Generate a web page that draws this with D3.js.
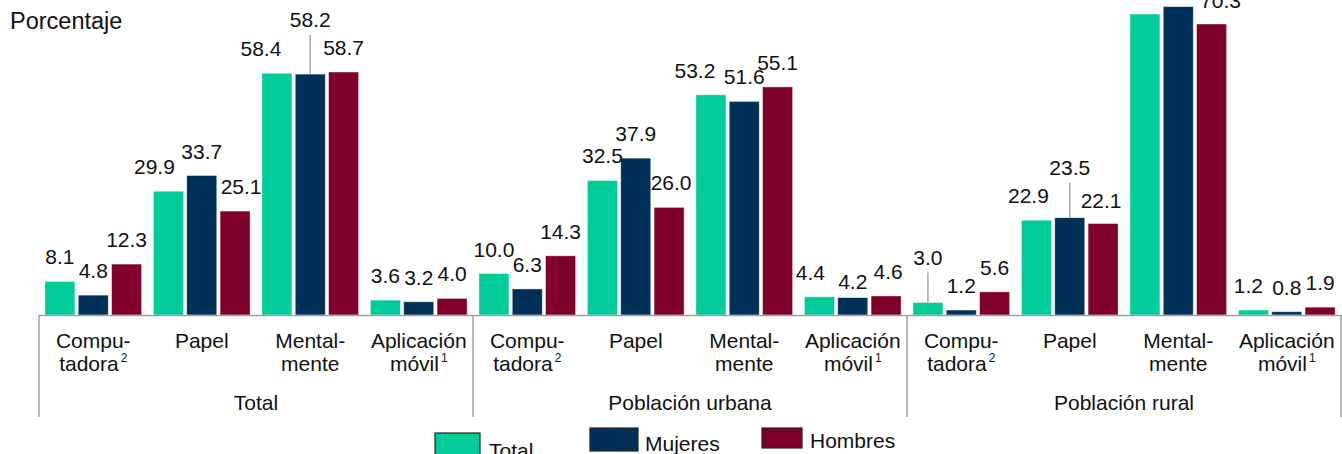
<!DOCTYPE html>
<html>
<head>
<meta charset="utf-8">
<script src="https://cdn.jsdelivr.net/npm/d3@7"></script>
<style>
  body { margin: 0; background: #fff; }
  svg { display: block; font-family: "Liberation Sans", Arial, sans-serif; }
</style>
</head>
<body>
<div id="chart"></div>
<script>
// Datos
var groups = ["Total", "Población urbana", "Población rural"];
var categories = ["Computadora", "Papel", "Mentalmente", "Aplicación móvil"];
var categoryLines = [["Compu-", "tadora"], ["Papel"], ["Mental-", "mente"], ["Aplicación", "móvil"]];
var categorySup = ["2", "", "", "1"];
var series = ["Total", "Mujeres", "Hombres"];
var colors = ["#00cc99", "#003057", "#80002c"];

// un valor por grupo x categoría (4 categorías por grupo)
var valuesTotal   = [8.1, 29.9, 58.4, 3.6, 10.0, 32.5, 53.2, 4.4, 3.0, 22.9, 72.7, 1.2];
var valuesMujeres = [4.8, 33.7, 58.2, 3.2, 6.3, 37.9, 51.6, 4.2, 1.2, 23.5, 74.5, 0.8];
var valuesHombres = [12.3, 25.1, 58.7, 4.0, 14.3, 26.0, 55.1, 4.6, 5.6, 22.1, 70.3, 1.9];

var allValues = [valuesTotal, valuesMujeres, valuesHombres];

// ajustes de etiquetas (índice "columna-serie"): dx, distancia arriba, línea guía
var labelAdjust = {
  "1-0": {dx: -14}, "1-2": {dx: 6}, "2-0": {dx: -16},
  "2-1": {up: 47, leader: true},
  "6-0": {dx: -16}, "5-2": {dx: 2},
  "7-0": {dx: -9}, "7-1": {up: 9}, "7-2": {dx: 2},
  "8-0": {up: 38, leader: true},
  "9-0": {dx: -8}, "9-1": {up: 43, leader: true}, "9-2": {dx: -2, up: 16},
  "10-2": {dx: 9, up: 16}, "11-0": {dx: -5}
};

var width = 1342, height = 454;
var left = 39, right = 1341, base = 315;
var fs = "21px";

var svg = d3.select("#chart").append("svg")
  .attr("width", width)
  .attr("height", height);

var columns = d3.range(groups.length * categories.length);

var x = d3.scaleBand()
  .domain(columns)
  .range([left, right])
  .paddingInner(0.109)
  .paddingOuter(0.0545);

var xs = d3.scaleBand()
  .domain(d3.range(series.length))
  .range([0, x.bandwidth()])
  .paddingInner(0.1);

var y = d3.scaleLinear()
  .domain([0, 76.1])
  .range([base, 0]);

// barras
var barData = [];
columns.forEach(function(c) {
  series.forEach(function(s, i) {
    barData.push({col: c, s: i, value: allValues[i][c]});
  });
});

svg.selectAll(".bar")
  .data(barData)
  .enter().append("rect")
  .attr("class", "bar")
  .attr("x", function(d) { return x(d.col) + xs(d.s); })
  .attr("y", function(d) { return y(d.value); })
  .attr("width", xs.bandwidth())
  .attr("height", function(d) { return base - y(d.value); })
  .attr("fill", function(d) { return colors[d.s]; })
  .attr("stroke", "#ffffff")
  .attr("stroke-opacity", 0.5)
  .attr("stroke-width", 0.8);

// líneas guía
svg.selectAll(".leader")
  .data(barData.filter(function(d) { var a = labelAdjust[d.col + "-" + d.s]; return a && a.leader; }))
  .enter().append("line")
  .attr("x1", function(d) { return x(d.col) + xs(d.s) + xs.bandwidth() / 2; })
  .attr("x2", function(d) { return x(d.col) + xs(d.s) + xs.bandwidth() / 2; })
  .attr("y1", function(d) { return y(d.value) - labelAdjust[d.col + "-" + d.s].up + 8; })
  .attr("y2", function(d) { return y(d.value); })
  .attr("stroke", "#a6a6a6")
  .attr("stroke-width", 1.5);

// etiquetas de valores (las que quedan fuera del lienzo, como en el original, no se ven)
function labelY(d) {
  var a = labelAdjust[d.col + "-" + d.s] || {};
  return y(d.value) - (a.up || 17);
}

svg.selectAll(".label")
  .data(barData.filter(function(d) { return labelY(d) > 0; }))
  .enter().append("text")
  .attr("class", "label")
  .attr("x", function(d) {
    var a = labelAdjust[d.col + "-" + d.s] || {};
    return x(d.col) + xs(d.s) + xs.bandwidth() / 2 + (a.dx || 0);
  })
  .attr("y", labelY)
  .attr("text-anchor", "middle")
  .attr("font-size", fs)
  .attr("fill", "#111")
  .text(function(d) { return d3.format(".1f")(d.value); });

// eje horizontal y separadores
svg.append("line")
  .attr("x1", left).attr("x2", right)
  .attr("y1", base + 0.5).attr("y2", base + 0.5)
  .attr("stroke", "#a0a0a0").attr("stroke-width", 1.5);

var groupEdges = d3.range(groups.length + 1).map(function(g) {
  return left + g * (right - left) / groups.length;
});
svg.selectAll(".sep")
  .data(groupEdges)
  .enter().append("line")
  .attr("x1", function(d) { return d; })
  .attr("x2", function(d) { return d; })
  .attr("y1", base)
  .attr("y2", 417)
  .attr("stroke", "#a0a0a0")
  .attr("stroke-width", 1.5);

// etiquetas de categorías
columns.forEach(function(c) {
  var k = c % categories.length;
  var cx = x(c) + x.bandwidth() / 2;
  var lines = categoryLines[k];
  var t = svg.append("text")
    .attr("text-anchor", "middle")
    .attr("font-size", fs)
    .attr("fill", "#111");
  lines.forEach(function(line, i) {
    var ts = t.append("tspan")
      .attr("x", cx)
      .attr("y", 348 + i * 22.5)
      .text(line);
    if (i === lines.length - 1 && categorySup[k]) {
      ts.append("tspan")
        .attr("dx", 2)
        .attr("dy", -9)
        .attr("font-size", "12px")
        .text(categorySup[k]);
    }
  });
});

// etiquetas de grupos
groups.forEach(function(g, i) {
  svg.append("text")
    .attr("x", (groupEdges[i] + groupEdges[i + 1]) / 2)
    .attr("y", 410)
    .attr("text-anchor", "middle")
    .attr("font-size", fs)
    .attr("fill", "#111")
    .text(g);
});

// título eje
svg.append("text")
  .attr("x", 10)
  .attr("y", 29)
  .attr("font-size", "23.5px")
  .attr("fill", "#111")
  .text("Porcentaje");

// leyenda
var legendPos = [
  {x: 435, y: 433, w: 45, h: 25, tx: 489, ty: 458},
  {x: 590, y: 428, w: 48, h: 23, tx: 645, ty: 451},
  {x: 762, y: 428, w: 40, h: 20, tx: 810, ty: 448}
];
var legend = svg.selectAll(".legend")
  .data(series)
  .enter().append("g")
  .attr("class", "legend");

legend.append("rect")
  .attr("x", function(d, i) { return legendPos[i].x; })
  .attr("y", function(d, i) { return legendPos[i].y; })
  .attr("width", function(d, i) { return legendPos[i].w; })
  .attr("height", function(d, i) { return legendPos[i].h; })
  .attr("fill", function(d, i) { return colors[i]; })
  .attr("stroke", "#222")
  .attr("stroke-width", 1.2);

legend.append("text")
  .attr("x", function(d, i) { return legendPos[i].tx; })
  .attr("y", function(d, i) { return legendPos[i].ty; })
  .attr("font-size", fs)
  .attr("fill", "#111")
  .text(function(d) { return d; });
</script>
</body>
</html>
